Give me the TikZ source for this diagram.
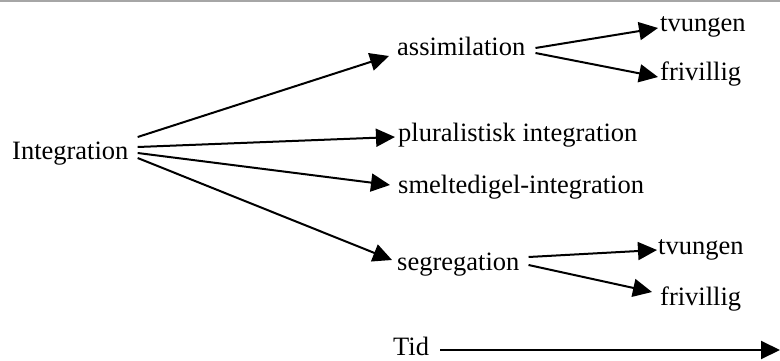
\documentclass[tikz,border=0pt]{standalone}
\usepackage{fontspec}
\setmainfont{Liberation Serif}
\usetikzlibrary{arrows.meta,calc}
\begin{document}
\begin{tikzpicture}[x=1pt,y=-1pt,
  lbl/.style={inner sep=0pt,anchor=base west,font=\fontsize{26.5}{30}\selectfont},
  arr/.style={line width=2pt,-{Triangle[length=19pt,width=18pt]}}]
\useasboundingbox[fill=white] (0,0) rectangle (780,361);
\draw[gray!70,line width=1.5pt] (0,0.8) -- (780,0.8);
% nodes
\node[lbl] (int) at (12,160) {Integration};
\node[lbl] (ass) at (397,56) {assimilation};
\node[lbl] (tv1) at (660,32) {tvungen};
\node[lbl] (fr1) at (660,81) {frivillig};
\node[lbl] (plu) at (398,141) {pluralistisk integration};
\node[lbl] (sme) at (398,193) {smeltedigel-integration};
\node[lbl] (seg) at (397,270) {segregation};
\node[lbl] (tv2) at (658,254) {tvungen};
\node[lbl] (fr2) at (660,305) {frivillig};
\node[lbl] (tid) at (393,355) {Tid};
\coordinate (tidend) at (780,350);
% connectors
\draw[arr] ($(int.base east)+(9,-23)$) -- ($(ass.base west)+(-8,0)$);
\draw[arr] ($(int.base east)+(9,-13)$) -- ($(plu.base west)+(-3,-4)$);
\draw[arr] ($(int.base east)+(9,-7)$) -- ($(sme.base west)+(-8,-8)$);
\draw[arr] ($(int.base east)+(9,-2)$) -- ($(seg.base west)+(-5,-10)$);
\draw[arr] ($(ass.base east)+(10,-8)$) -- ($(tv1.base west)+(-2,-4)$);
\draw[arr] ($(ass.base east)+(10,-3)$) -- ($(fr1.base west)+(-2,-4)$);
\draw[arr] ($(seg.base east)+(9,-13)$) -- ($(tv2.base west)+(-1,-4)$);
\draw[arr] ($(seg.base east)+(9,-5)$) -- ($(fr2.base west)+(-8,-13)$);
\draw[arr] ($(tid.base east)+(11,-5)$) -- (tidend);
\end{tikzpicture}
\end{document}
